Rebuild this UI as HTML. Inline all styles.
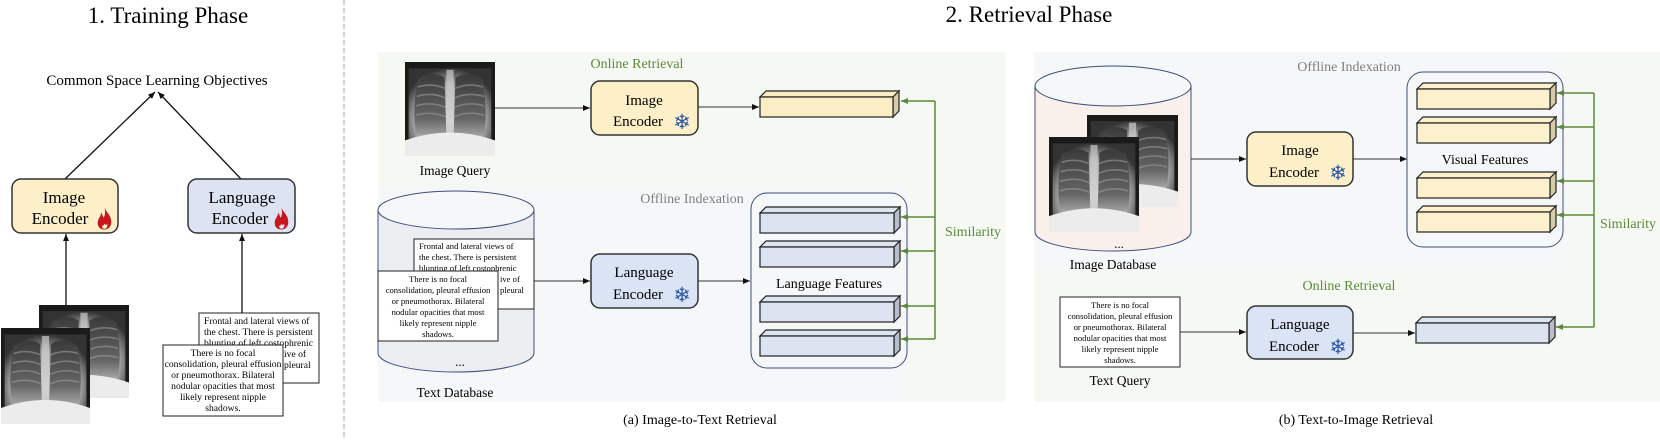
<!DOCTYPE html>
<html><head><meta charset="utf-8"><style>
html,body{margin:0;padding:0;background:#fff;}
svg{display:block;font-family:"Liberation Serif",serif;}
svg text{font-family:"Liberation Serif",serif;}
</style></head><body>
<svg width="1660" height="440" viewBox="0 0 1660 440" xmlns="http://www.w3.org/2000/svg" font-family="Liberation Serif, serif">
<defs>
<marker id="ah" markerWidth="8" markerHeight="8" refX="7" refY="4" orient="auto" markerUnits="userSpaceOnUse"><path d="M0,1 L7,4 L0,7 z" fill="#111"/></marker>
<marker id="ag" markerWidth="8" markerHeight="8" refX="7" refY="4" orient="auto" markerUnits="userSpaceOnUse"><path d="M0,1 L7,4 L0,7 z" fill="#5a8a3a"/></marker>
<radialGradient id="body" cx="50%" cy="60%" r="60%"><stop offset="0" stop-color="#e0e0e0"/><stop offset="0.7" stop-color="#a8a8a8"/><stop offset="1" stop-color="#333"/></radialGradient>
<linearGradient id="lung" x1="0" y1="0" x2="0" y2="1"><stop offset="0" stop-color="#3a3a3a"/><stop offset="0.7" stop-color="#666"/><stop offset="1" stop-color="#aaa"/></linearGradient>
<symbol id="xr" viewBox="0 0 100 120" preserveAspectRatio="none">
<rect width="100" height="120" fill="#1a1a1a"/>
<rect x="4" y="8" width="92" height="112" fill="url(#body)"/>
<path d="M14,22 Q30,10 44,20 L46,95 Q30,100 12,92 Q8,60 14,22z" fill="url(#lung)"/>
<path d="M56,20 Q70,10 86,22 Q92,60 88,92 Q70,100 54,95z" fill="url(#lung)"/>
<g stroke="#999" stroke-width="2" fill="none" opacity="0.6">
<path d="M14,32 Q30,26 45,34"/><path d="M13,44 Q30,38 45,46"/><path d="M12,56 Q30,50 45,58"/><path d="M12,68 Q30,62 45,70"/>
<path d="M55,34 Q70,26 87,32"/><path d="M55,46 Q70,38 88,44"/><path d="M55,58 Q70,50 88,56"/><path d="M55,70 Q70,62 88,68"/>
</g>
<rect x="46" y="10" width="8" height="90" fill="#ccc" opacity="0.7"/>
<path d="M0,100 Q50,80 100,100 L100,120 L0,120z" fill="#ececec"/>
</symbol>
<symbol id="flame" viewBox="0 0 20 26"><path d="M10,0 C12,6 18,9 18,17 C18,23 14,26 10,26 C5,26 2,23 2,18 C2,13 6,11 6,6 C8,9 8,11 9,12 C11,9 11,5 10,0z M10,25 C13,25 14,22 13,19 C12,21 11,21 10,19 C9,22 7,22 7,21 C7,24 8,25 10,25z" fill="#c8161d"/></symbol>
</defs>

<line x1="344" y1="0" x2="344" y2="440" stroke="#aaa" stroke-width="1" stroke-dasharray="5,3"/>

<text x="168" y="23" font-size="23" text-anchor="middle">1. Training Phase</text>
<text x="1029" y="22" font-size="23" text-anchor="middle">2. Retrieval Phase</text>

<text x="157" y="85" font-size="15" text-anchor="middle">Common Space Learning Objectives</text>
<line x1="65" y1="179" x2="155" y2="92" stroke="#111" stroke-width="1.3" marker-end="url(#ah)"/>
<line x1="241" y1="179" x2="158" y2="92" stroke="#111" stroke-width="1.3" marker-end="url(#ah)"/>
<rect x="12" y="179" width="106" height="54" rx="9" fill="#fdf0c8" stroke="#333" stroke-width="1.5"/>
<text x="64" y="203" font-size="17" text-anchor="middle">Image</text>
<text x="60" y="224" font-size="17" text-anchor="middle">Encoder</text>
<use href="#flame" x="96" y="207" width="17" height="23"/>
<rect x="188" y="179" width="107" height="54" rx="9" fill="#dce4f4" stroke="#333" stroke-width="1.5"/>
<text x="242" y="203" font-size="17" text-anchor="middle">Language</text>
<text x="240" y="224" font-size="17" text-anchor="middle">Encoder</text>
<use href="#flame" x="273" y="207" width="17" height="23"/>
<line x1="66" y1="306" x2="66" y2="234" stroke="#111" stroke-width="1.3" marker-end="url(#ah)"/>
<line x1="242" y1="313" x2="242" y2="234" stroke="#111" stroke-width="1.3" marker-end="url(#ah)"/>
<use href="#xr" x="39" y="305" width="90" height="93"/>
<use href="#xr" x="1" y="328" width="89" height="96"/>
<rect x="199" y="313" width="120" height="70" fill="#fff" stroke="#222" stroke-width="1"/>
<g font-size="9.6"><text x="204" y="324">Frontal and lateral views of</text><text x="204" y="335">the chest. There is persistent</text><text x="204" y="346">blunting of left costophrenic</text><text x="284" y="357">ive of</text><text x="284" y="368">pleural</text></g>
<rect x="163" y="345" width="120" height="71" fill="#fff" stroke="#222" stroke-width="1"/>
<g font-size="9.6" text-anchor="middle"><text x="223" y="356">There is no focal</text><text x="223" y="367">consolidation, pleural effusion</text><text x="223" y="378">or pneumothorax. Bilateral</text><text x="223" y="389">nodular opacities that most</text><text x="223" y="400">likely represent nipple</text><text x="223" y="411">shadows.</text></g>

<rect x="378" y="52" width="627" height="350" fill="#f6f9f3"/>
<rect x="378" y="185" width="530" height="217" fill="#f6f7f8"/>
<text x="637" y="68" font-size="14" fill="#5a8a3a" text-anchor="middle">Online Retrieval</text>
<text x="692" y="203" font-size="14" fill="#808080" text-anchor="middle">Offline Indexation</text>
<use href="#xr" x="405" y="62" width="90" height="94"/>
<text x="455" y="175" font-size="13.5" text-anchor="middle">Image Query</text>
<line x1="495" y1="108" x2="590" y2="108" stroke="#333" stroke-width="1" marker-end="url(#ah)"/>
<rect x="591" y="81" width="107" height="54" rx="9" fill="#fdf0c8" stroke="#333" stroke-width="1.5"/>
<text x="644" y="105" font-size="15" text-anchor="middle">Image</text>
<text x="638" y="126" font-size="15" text-anchor="middle">Encoder</text>
<text x="682" y="129" font-size="21" fill="#2b57a5" text-anchor="middle">❄</text>
<line x1="698" y1="107" x2="759" y2="107" stroke="#333" stroke-width="1" marker-end="url(#ah)"/>
<path d="M760,97 L766,91 L899,91 L893,97z" fill="#fbeec5" stroke="#222" stroke-width="1.2"/>
<path d="M893,97 L899,91 L899,111 L893,117z" fill="#d8cca8" stroke="#222" stroke-width="1.2"/>
<rect x="760" y="97" width="133" height="20" fill="#fbeec5" stroke="#222" stroke-width="1.2"/>
<path d="M378,210 L378,353 A78,19 0 0 0 534,353 L534,210z" fill="#eceef2" stroke="#3d4f7a" stroke-width="1"/>
<ellipse cx="456" cy="210" rx="78" ry="19" fill="#f6f7f8" stroke="#3d4f7a" stroke-width="1"/>
<text x="460" y="366" font-size="13" text-anchor="middle">...</text>
<text x="455" y="397" font-size="13.5" text-anchor="middle">Text Database</text>
<rect x="414" y="239" width="120" height="70" fill="#fff" stroke="#222" stroke-width="1"/>
<g font-size="8.6"><text x="419" y="249">Frontal and lateral views of</text><text x="419" y="260">the chest. There is persistent</text><text x="419" y="271">blunting of left costophrenic</text><text x="500" y="282">ive of</text><text x="500" y="293">pleural</text></g>
<rect x="378" y="271" width="120" height="70" fill="#fff" stroke="#222" stroke-width="1"/>
<g font-size="8.6" text-anchor="middle"><text x="438" y="282">There is no focal</text><text x="438" y="293">consolidation, pleural effusion</text><text x="438" y="304">or pneumothorax. Bilateral</text><text x="438" y="315">nodular opacities that most</text><text x="438" y="326">likely represent nipple</text><text x="438" y="337">shadows.</text></g>
<line x1="534" y1="281" x2="590" y2="281" stroke="#333" stroke-width="1" marker-end="url(#ah)"/>
<rect x="591" y="254" width="107" height="54" rx="9" fill="#dbe4f4" stroke="#333" stroke-width="1.5"/>
<text x="644" y="277" font-size="15" text-anchor="middle">Language</text>
<text x="638" y="299" font-size="15" text-anchor="middle">Encoder</text>
<text x="682" y="302" font-size="21" fill="#2b57a5" text-anchor="middle">❄</text>
<line x1="698" y1="281" x2="750" y2="281" stroke="#333" stroke-width="1" marker-end="url(#ah)"/>
<rect x="751" y="193" width="156" height="175" rx="16" fill="#f6f7f8" stroke="#3d4f7a" stroke-width="1"/>
<text x="829" y="288" font-size="14" text-anchor="middle">Language Features</text>
<g stroke="#222" stroke-width="1.2">
<path d="M760,213 L766,207 L900,207 L894,213z" fill="#dde4f1"/><path d="M894,213 L900,207 L900,227 L894,233z" fill="#b8bfcc"/><rect x="760" y="213" width="134" height="20" fill="#dde4f1"/>
<path d="M760,247 L766,241 L900,241 L894,247z" fill="#dde4f1"/><path d="M894,247 L900,241 L900,261 L894,267z" fill="#b8bfcc"/><rect x="760" y="247" width="134" height="20" fill="#dde4f1"/>
<path d="M760,302 L766,296 L900,296 L894,302z" fill="#dde4f1"/><path d="M894,302 L900,296 L900,316 L894,322z" fill="#b8bfcc"/><rect x="760" y="302" width="134" height="20" fill="#dde4f1"/>
<path d="M760,336 L766,330 L900,330 L894,336z" fill="#dde4f1"/><path d="M894,336 L900,330 L900,350 L894,356z" fill="#b8bfcc"/><rect x="760" y="336" width="134" height="20" fill="#dde4f1"/>
</g>
<g stroke="#5a8a3a" stroke-width="1.5" fill="none">
<line x1="935" y1="101" x2="935" y2="339"/>
<line x1="935" y1="101" x2="901" y2="101" marker-end="url(#ag)"/>
<line x1="935" y1="217" x2="901" y2="217" marker-end="url(#ag)"/>
<line x1="935" y1="251" x2="901" y2="251" marker-end="url(#ag)"/>
<line x1="935" y1="306" x2="901" y2="306" marker-end="url(#ag)"/>
<line x1="935" y1="339" x2="901" y2="339" marker-end="url(#ag)"/>
</g>
<text x="945" y="236" font-size="14" fill="#5a8a3a">Similarity</text>
<text x="700" y="424" font-size="14" text-anchor="middle">(a) Image-to-Text Retrieval</text>

<rect x="1034" y="52" width="626" height="350" fill="#f6f9f3"/>
<rect x="1034" y="52" width="531" height="216" fill="#f6f7f8"/>
<text x="1349" y="71" font-size="14" fill="#808080" text-anchor="middle">Offline Indexation</text>
<text x="1349" y="290" font-size="14" fill="#5a8a3a" text-anchor="middle">Online Retrieval</text>
<path d="M1035,86 L1035,232 A78,19 0 0 0 1191,232 L1191,86z" fill="#f9efeb" stroke="#3d4f7a" stroke-width="1"/>
<ellipse cx="1113" cy="86" rx="78" ry="20" fill="#f6f7f8" stroke="#3d4f7a" stroke-width="1"/>
<use href="#xr" x="1087" y="115" width="91" height="92"/>
<use href="#xr" x="1049" y="137" width="90" height="95"/>
<text x="1119" y="248" font-size="13" text-anchor="middle">...</text>
<text x="1113" y="269" font-size="13.5" text-anchor="middle">Image Database</text>
<line x1="1191" y1="159" x2="1246" y2="159" stroke="#333" stroke-width="1" marker-end="url(#ah)"/>
<rect x="1247" y="132" width="106" height="54" rx="9" fill="#fdf0c8" stroke="#333" stroke-width="1.5"/>
<text x="1300" y="155" font-size="15" text-anchor="middle">Image</text>
<text x="1294" y="177" font-size="15" text-anchor="middle">Encoder</text>
<text x="1338" y="180" font-size="21" fill="#2b57a5" text-anchor="middle">❄</text>
<line x1="1353" y1="159" x2="1407" y2="159" stroke="#333" stroke-width="1" marker-end="url(#ah)"/>
<rect x="1407" y="72" width="156" height="175" rx="16" fill="#f6f7f8" stroke="#3d4f7a" stroke-width="1"/>
<text x="1485" y="164" font-size="14" text-anchor="middle">Visual Features</text>
<g stroke="#222" stroke-width="1.2">
<path d="M1417,89 L1423,83 L1556,83 L1550,89z" fill="#fdf0cc"/><path d="M1550,89 L1556,83 L1556,103 L1550,109z" fill="#d8cca8"/><rect x="1417" y="89" width="133" height="20" fill="#fdf0cc"/>
<path d="M1417,123 L1423,117 L1556,117 L1550,123z" fill="#fdf0cc"/><path d="M1550,123 L1556,117 L1556,137 L1550,143z" fill="#d8cca8"/><rect x="1417" y="123" width="133" height="20" fill="#fdf0cc"/>
<path d="M1417,178 L1423,172 L1556,172 L1550,178z" fill="#fdf0cc"/><path d="M1550,178 L1556,172 L1556,192 L1550,198z" fill="#d8cca8"/><rect x="1417" y="178" width="133" height="20" fill="#fdf0cc"/>
<path d="M1417,212 L1423,206 L1556,206 L1550,212z" fill="#fdf0cc"/><path d="M1550,212 L1556,206 L1556,226 L1550,232z" fill="#d8cca8"/><rect x="1417" y="212" width="133" height="20" fill="#fdf0cc"/>
<path d="M1416,323 L1422,317 L1555,317 L1549,323z" fill="#dde4f1"/><path d="M1549,323 L1555,317 L1555,337 L1549,343z" fill="#b8bfcc"/><rect x="1416" y="323" width="133" height="20" fill="#dde4f1"/>
</g>
<g stroke="#5a8a3a" stroke-width="1.5" fill="none">
<line x1="1594" y1="93" x2="1594" y2="327"/>
<line x1="1594" y1="93" x2="1557" y2="93" marker-end="url(#ag)"/>
<line x1="1594" y1="127" x2="1557" y2="127" marker-end="url(#ag)"/>
<line x1="1594" y1="181" x2="1557" y2="181" marker-end="url(#ag)"/>
<line x1="1594" y1="215" x2="1557" y2="215" marker-end="url(#ag)"/>
<line x1="1594" y1="327" x2="1556" y2="327" marker-end="url(#ag)"/>
</g>
<text x="1600" y="228" font-size="14" fill="#5a8a3a">Similarity</text>
<rect x="1060" y="297" width="120" height="70" fill="#fff" stroke="#222" stroke-width="1"/>
<g font-size="8.6" text-anchor="middle"><text x="1120" y="308">There is no focal</text><text x="1120" y="319">consolidation, pleural effusion</text><text x="1120" y="330">or pneumothorax. Bilateral</text><text x="1120" y="341">nodular opacities that most</text><text x="1120" y="352">likely represent nipple</text><text x="1120" y="363">shadows.</text></g>
<text x="1120" y="385" font-size="13.5" text-anchor="middle">Text Query</text>
<line x1="1180" y1="332" x2="1246" y2="332" stroke="#333" stroke-width="1" marker-end="url(#ah)"/>
<rect x="1247" y="306" width="106" height="53" rx="9" fill="#dbe4f4" stroke="#333" stroke-width="1.5"/>
<text x="1300" y="329" font-size="15" text-anchor="middle">Language</text>
<text x="1294" y="351" font-size="15" text-anchor="middle">Encoder</text>
<text x="1338" y="354" font-size="21" fill="#2b57a5" text-anchor="middle">❄</text>
<line x1="1353" y1="333" x2="1415" y2="333" stroke="#333" stroke-width="1" marker-end="url(#ah)"/>
<text x="1356" y="424" font-size="14" text-anchor="middle">(b) Text-to-Image Retrieval</text>
</svg>
</body></html>
